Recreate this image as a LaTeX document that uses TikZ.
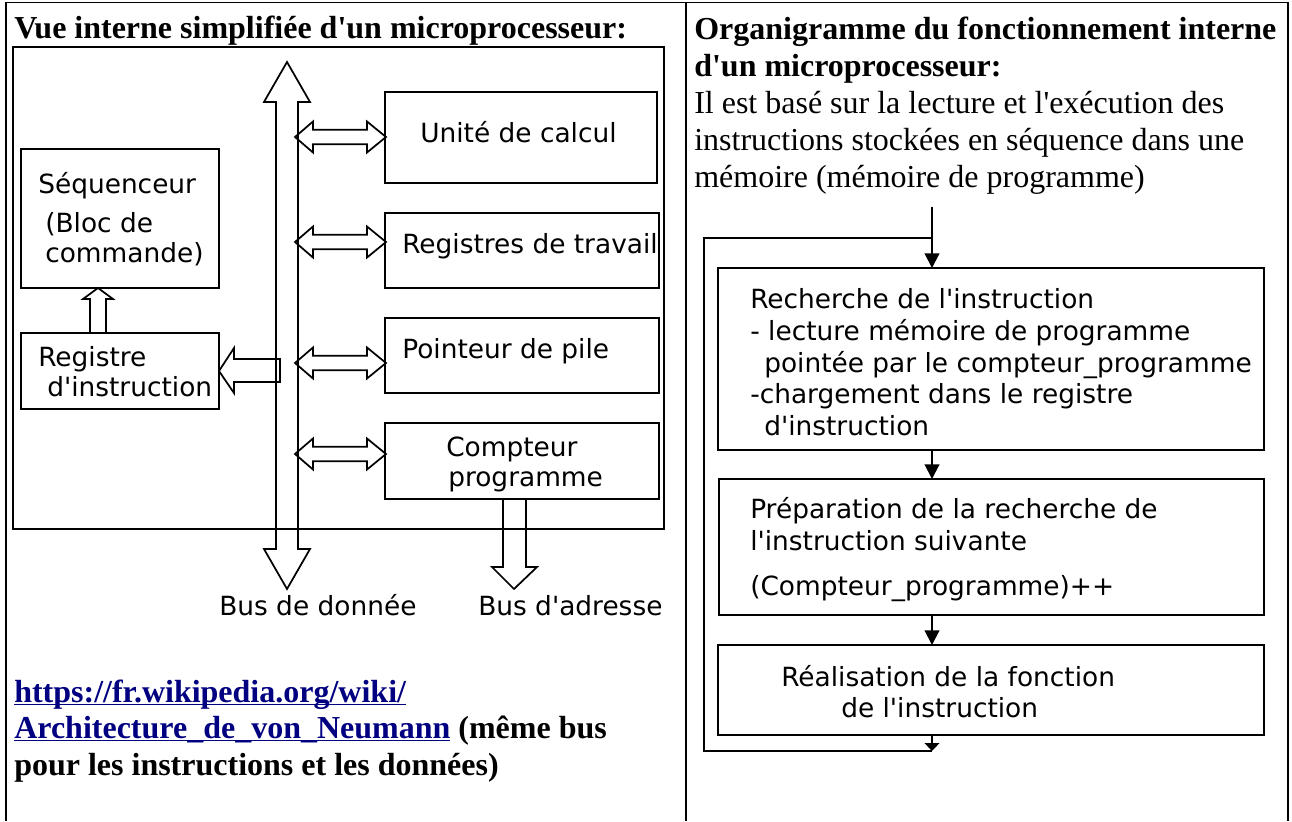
\documentclass[tikz,border=0pt]{standalone}
\usepackage{fontspec}
\setmainfont{Liberation Serif}
\newfontfamily\djv{DejaVu Sans}
\usetikzlibrary{arrows.meta}
\definecolor{linkblue}{RGB}{0,0,128}
\newcommand{\aps}{\textquotesingle}
\newcommand{\px}[1]{#1*0.75pt}
\newcommand{\ulink}[1]{{\color{linkblue}\setbox0\hbox{#1}\rlap{\rule[-2.4pt]{\wd0}{1.1pt}}\box0}}

\tikzset{
  bloc/.style={draw, line width=1.3pt, inner sep=0pt, outer sep=0pt, anchor=north west},
  sans/.style={anchor=base west, inner sep=0pt, font=\djv\fontsize{19.8}{24}\selectfont},
  serif/.style={anchor=base west, inner sep=0pt, font=\fontsize{24}{28}\selectfont},
  titre/.style={anchor=base west, inner sep=0pt, font=\bfseries\fontsize{24}{28}\selectfont},
  fleche/.style={draw, line width=1.3pt, line join=miter},
  flux/.style={line width=1.5pt, -{Triangle[length=11pt,width=11pt]}}
}

\begin{document}
\begin{tikzpicture}[x=0.75pt,y=0.75pt,yscale=-1,xscale=1]
  \path[use as bounding box, fill=white] (0,0) rectangle (1292,821);

  %Table
  \draw[line width=0.8pt] (6,821) -- (6,2.5) -- (1288,2.5) -- (1288,821);
  \draw[line width=0.8pt] (686,2.5) -- (686,821);

  % Titles
  \node[titre] (titreg) at (14,38) {Vue interne simplifiée d\aps un microprocesseur:};
  \node[titre] (titred1) at (694,39) {Organigramme du fonctionnement interne};
  \node[titre] (titred2) at (694,76) {d\aps un microprocesseur:};
  \node[serif] (intro1) at (694,113) {Il est basé sur la lecture et l\aps exécution des};
  \node[serif] (intro2) at (694,150) {instructions stockées en séquence dans une};
  \node[serif] (intro3) at (694,187) {mémoire (mémoire de programme)};

  %Boxes: microprocessor
  \node[bloc, minimum width=\px{651}, minimum height=\px{482}] (cpu) at (13,47) {};
  \node[bloc, minimum width=\px{198}, minimum height=\px{139}] (seq) at (21,149) {};
  \node[bloc, minimum width=\px{198}, minimum height=\px{76}] (reg) at (21,333) {};
  \node[bloc, minimum width=\px{272}, minimum height=\px{91}] (ual) at (385,92) {};
  \node[bloc, minimum width=\px{274}, minimum height=\px{75}] (trav) at (385,213) {};
  \node[bloc, minimum width=\px{274}, minimum height=\px{75}] (pile) at (385,318) {};
  \node[bloc, minimum width=\px{274}, minimum height=\px{76}] (cpt) at (385,423) {};

  %Shape: data bus
  \draw[fleche] (287,62) -- (310,102) -- (298,102) -- (298,549) -- (310,549) -- (287,589) -- (264,549) -- (276,549) -- (276,102) -- (264,102) -- cycle;
  %Shape: address bus
  \draw[fleche] (503,499) -- (503,567) -- (492,567) -- (514,589) -- (537,567) -- (526,567) -- (526,499);
  %Shape: bus -> registre
  \draw[fleche] (219,371) -- (234,348) -- (234,359) -- (280,359) -- (280,382) -- (234,382) -- (234,393) -- cycle;
  %Shape: registre -> sequenceur
  \draw[fleche] (98,288) -- (113,299) -- (106,299) -- (106,333) -- (90,333) -- (90,299) -- (83,299) -- cycle;
  %Shape: double arrows
  \draw[fleche] (295,137) -- (313,121.5) -- (313,129.7) -- (367,129.7) -- (367,121.5) -- (386,137) -- (367,152.5) -- (367,144.3) -- (313,144.3) -- (313,152.5) -- cycle;
  \draw[fleche] (295,242) -- (313,226.5) -- (313,234.7) -- (367,234.7) -- (367,226.5) -- (386,242) -- (367,257.5) -- (367,249.3) -- (313,249.3) -- (313,257.5) -- cycle;
  \draw[fleche] (295,363) -- (313,347.5) -- (313,355.7) -- (367,355.7) -- (367,347.5) -- (386,363) -- (367,378.5) -- (367,370.3) -- (313,370.3) -- (313,378.5) -- cycle;
  \draw[fleche] (295,454) -- (313,438.5) -- (313,446.7) -- (367,446.7) -- (367,438.5) -- (386,454) -- (367,469.5) -- (367,461.3) -- (313,461.3) -- (313,469.5) -- cycle;

  % Text Node
  \node[sans] (tseq1) at (38,193) {Séquenceur};
  \node[sans] (tseq2) at (45,232) {(Bloc de};
  \node[sans] (tseq3) at (45,262) {commande)};
  \node[sans] (treg1) at (38,366) {Registre};
  \node[sans] (treg2) at (47,396) {d\aps instruction};
  \node[sans] (tual) at (420,142) {Unité de calcul};
  \node[sans] (ttrav) at (402,253) {Registres de travail};
  \node[sans] (tpile) at (402,358) {Pointeur de pile};
  \node[sans] (tcpt1) at (446,456) {Compteur};
  \node[sans] (tcpt2) at (448,486) {programme};
  \node[sans] (tbusd) at (219,615) {Bus de donnée};
  \node[sans] (tbusa) at (478,615) {Bus d\aps adresse};

  % Link
  \node[titre] (lien1) at (14,702) {\ulink{https://fr.wikipedia.org/wiki/}};
  \node[titre] (lien2) at (14,738) {\ulink{Architecture\_de\_von\_Neumann} (même bus};
  \node[titre] (lien3) at (14,775) {pour les instructions et les données)};

  %Boxes: flowchart
  \node[bloc, minimum width=\px{546}, minimum height=\px{182}] (rech) at (718,268) {};
  \node[bloc, minimum width=\px{545}, minimum height=\px{136}] (prep) at (719,479) {};
  \node[bloc, minimum width=\px{546}, minimum height=\px{90}] (real) at (718,645) {};

  % Text Node
  \node[sans] (trech1) at (750,308) {Recherche de l\aps instruction};
  \node[sans] (trech2) at (750,340) {- lecture mémoire de programme};
  \node[sans] (trech3) at (764,372) {pointée par le compteur\_programme};
  \node[sans] (trech4) at (750,403) {-chargement dans le registre};
  \node[sans] (trech5) at (764,435) {d\aps instruction};
  \node[sans] (tprep1) at (750,518) {Préparation de la recherche de};
  \node[sans] (tprep2) at (750,550) {l\aps instruction suivante};
  \node[sans] (tprep3) at (750,595) {(Compteur\_programme)++};
  \node[sans] (treal1) at (781,686) {Réalisation de la fonction};
  \node[sans] (treal2) at (841,717) {de l\aps instruction};

  %Straight Lines
  \coordinate (entree) at (932,207);
  \coordinate (boucle) at (932,238);
  \coordinate (retour) at (932,751);
  \draw[flux] (entree) -- (entree |- rech.north);
  \draw[flux] (entree |- rech.south) -- (entree |- prep.north);
  \draw[flux] (entree |- prep.south) -- (entree |- real.north);
  \draw[line width=1.5pt, -{Triangle[length=6pt,width=11pt]}] (entree |- real.south) -- (retour);
  \draw[line width=1.5pt] (retour) -- (704,751) -- (704,238) -- (boucle);

\end{tikzpicture}
\end{document}
